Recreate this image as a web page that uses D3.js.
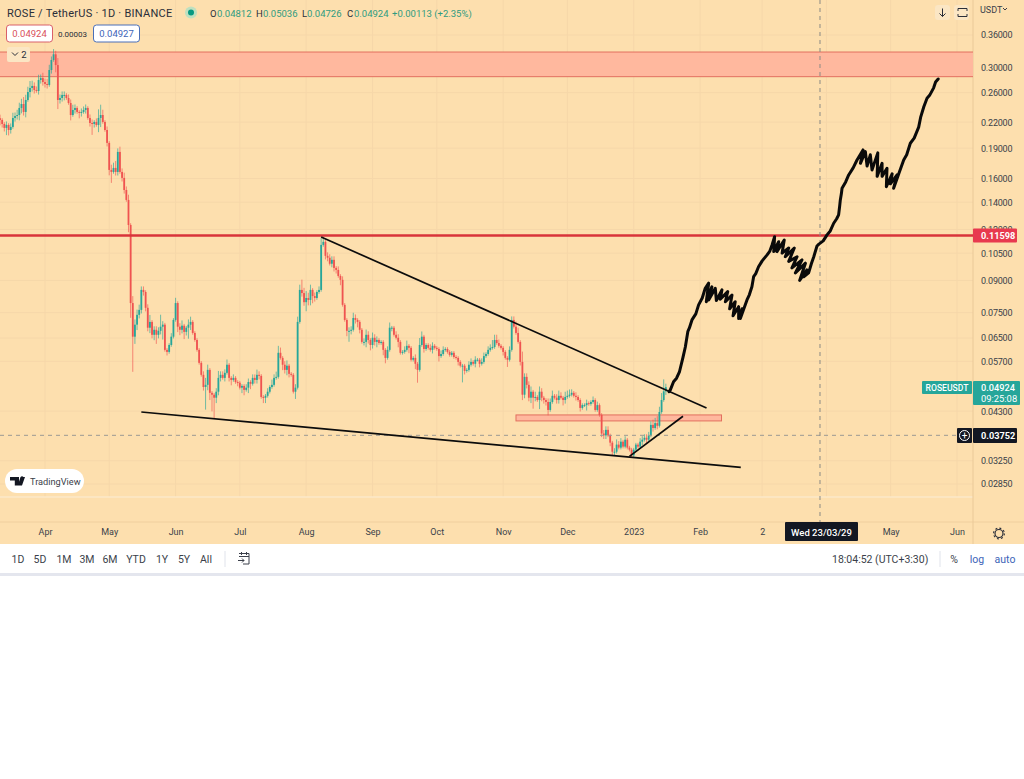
<!DOCTYPE html>
<html lang="en">
<head>
<meta charset="utf-8">
<title>ROSE / TetherUS</title>
<style>
body{
  margin: 0;
  background: #fff;
}
svg text{
  font-family: Roboto, sans-serif;
  fill: #2a2e39;
}
.axis path, .axis line{
  display: none;
}
.axis text{
  font: 9px Roboto, sans-serif;
  fill: #3b3f4a;
}
.bar text{
  font-size: 10.5px;
  fill: #3b3f4a;
}
</style>
</head>
<body>
<div id="chart"></div>
<script src="https://d3js.org/d3.v7.min.js"></script>
<script>
  // Daily closes from 11 Mar 2022
  const firstDay = "2022-03-11";
  const closes = [
    .2228,.2178,.2130,.2166,.2105,.2142,.2253,.2278,.2291,.2384,
    .2438,.2331,.2494,.2609,.2669,.2700,.2639,.2624,.2792,.2823,
    .2760,.2730,.2715,.2954,.3126,.3228,.3038,.2494,.2522,.2566,
    .2566,.2522,.2452,.2291,.2357,.2384,.2331,.2318,.2331,.2357,
    .2384,.2253,.2190,.2178,.2203,.2166,.2253,.2291,.2203,.2105,
    .1957,.1680,.1661,.1699,.1661,.1860,.1661,.1606,.1500,.1418,
    .1231,.0792,.0655,.0701,.0741,.0762,.0853,.0843,.0771,.0689,
    .0712,.0662,.0681,.0662,.0677,.0693,.0701,.0608,.0601,.0625,
    .0655,.0720,.0792,.0693,.0681,.0697,.0673,.0689,.0701,.0712,
    .0669,.0643,.0608,.0565,.0528,.0493,.0499,.0543,.0477,.0472,
    .0464,.0480,.0519,.0528,.0519,.0534,.0559,.0519,.0513,.0519,
    .0507,.0505,.0491,.0496,.0485,.0491,.0507,.0502,.0519,.0513,
    .0528,.0525,.0466,.0464,.0469,.0480,.0493,.0499,.0519,.0522,
    .0598,.0581,.0559,.0543,.0556,.0531,.0528,.0480,.0491,.0712,
    .0853,.0838,.0796,.0815,.0806,.0853,.0824,.0815,.0843,.0853,
    .1100,.1119,.1034,.1023,.0989,.1011,.0966,.0955,.0923,.0903,
    .0784,.0720,.0677,.0677,.0681,.0728,.0720,.0712,.0681,.0636,
    .0636,.0662,.0643,.0625,.0651,.0636,.0643,.0632,.0636,.0608,
    .0581,.0608,.0689,.0689,.0662,.0651,.0636,.0598,.0601,.0608,
    .0622,.0615,.0575,.0581,.0562,.0543,.0625,.0655,.0611,.0625,
    .0615,.0608,.0622,.0615,.0611,.0587,.0594,.0608,.0611,.0601,
    .0591,.0598,.0584,.0581,.0568,.0556,.0556,.0540,.0543,.0559,
    .0568,.0562,.0575,.0575,.0562,.0568,.0587,.0594,.0608,.0615,
    .0618,.0643,.0632,.0622,.0615,.0601,.0581,.0575,.0608,.0720,
    .0693,.0669,.0636,.0568,.0472,.0522,.0499,.0464,.0480,.0464,
    .0466,.0458,.0480,.0464,.0458,.0453,.0433,.0453,.0469,.0464,
    .0458,.0469,.0464,.0458,.0466,.0469,.0472,.0477,.0469,.0466,
    .0458,.0438,.0445,.0445,.0450,.0448,.0453,.0458,.0433,.0445,
    .0421,.0379,.0375,.0387,.0375,.0360,.0342,.0342,.0356,.0350,
    .0362,.0352,.0366,.0350,.0346,.0335,.0346,.0356,.0352,.0362,
    .0366,.0370,.0366,.0375,.0398,.0391,.0402,.0396,.0428,.0458,.0481,.04924
  ];
  // Wick lengths above and below the body, in percent of price
  const wickUp = [
    2,1,1,2,1,2,3,2,3,3, 3,4,3,3,4,3,2,2,3,2, 3,2,3,3,2,3,2,4,2,2, 2,1,2,2,3,2,1,1,2,2,
    2,1,2,2,1,2,5,6,3,1, 2,1,3,3,4,2,3,2,3,2, 3,1,4,3,3,3,2,2,1,2, 4,1,2,2,2,7,2,1,1,1,
    2,1,3,1,2,3,1,1,3,3, 1,1,1,1,1,2,4,3,1,1, 1,2,4,2,2,2,3,1,1,2, 1,1,1,1,1,2,2,1,2,2,
    3,2,1,1,1,2,1,3,2,3, 4,3,1,2,3,1,1,1,2,3, 3,6,3,4,3,3,1,2,1,2, 4,3,1,2,2,2,2,1,2,1,
    2,1,1,2,2,3,2,1,1,1, 2,3,2,1,3,2,2,1,1,1, 1,2,3,1,1,2,2,1,1,2, 3,1,1,1,2,1,4,3,1,1,
    1,2,2,1,1,1,2,2,1,1, 1,1,1,1,1,1,1,1,1,2, 2,1,2,1,1,2,2,1,2,2, 4,3,3,2,1,1,1,1,2,2,
    2,3,3,1,6,2,2,2,3,1, 3,1,3,2,1,1,2,2,3,1, 2,3,2,1,3,3,3,2,1,2, 1,1,1,1,2,1,1,2,1,2,
    1,1,2,2,2,1,1,2,3,2, 2,1,2,1,1,1,1,1,1,2, 2,2,2,2,2,3,3,4,3,4,7,2
  ];
  const wickDown = [
    3,2,2,4,3,2,1,2,2,3, 3,2,3,1,3,2,2,1,2,2, 2,2,2,1,2,1,4,5,2,2, 3,1,1,3,1,2,1,3,2,1,
    2,1,2,6,2,1,4,5,1,1, 2,3,6,1,2,2,1,2,2,1, 4,8,18,4,3,2,2,2,2,2, 3,2,3,5,2,2,7,1,2,1,
    1,1,1,3,3,2,4,2,6,3, 1,1,1,1,1,2,12,3,4,9, 11,3,2,2,1,2,1,2,3,1, 1,2,1,3,3,1,3,3,1,2,
    2,2,1,3,3,1,1,1,1,1, 1,1,3,2,3,2,1,1,4,1, 1,2,2,5,3,3,4,2,1,1, 1,1,2,2,1,2,2,2,1,3,
    1,1,3,6,2,1,2,3,2,1, 2,3,2,3,2,2,3,1,1,3, 3,1,1,2,1,1,3,1,1,1, 1,3,1,1,3,7,1,1,2,1,
    1,1,2,1,1,3,1,1,1,1, 1,1,1,1,2,1,9,2,1,1, 1,1,2,1,2,1,1,1,1,1, 1,1,1,1,1,2,1,4,1,1,
    1,1,1,2,3,2,2,2,3,6, 2,1,5,2,2,2,3,1,1,1, 2,2,1,3,2,1,1,1,1,2, 1,2,1,1,3,1,1,1,1,1,
    1,2,2,2,1,2,2,2,1,1, 1,1,1,1,1,1,1,1,1,1, 2,1,2,1,1,2,1,2,1,1,1,2
  ];

  // The hand-drawn projection: days after 1 Jan 2023 and price
  const projDays = [16.5,17.1,18.6,20,21.4,23,24.1,25.3,26,27.2,29,30.3,32,33.4,35,33.9,36.5,35,38.1,38.6,41.2,40.4,43.9,42.8,45.9,44.8,47.4,46.4,49,49,50.6,49.8,52.9,54,55.2,56,57,58.3,60,62.2,63.5,64.6,65.8,65.4,67.7,66.9,70.3,69.3,72.4,70.8,75,72.4,76.3,73.9,78.6,75.5,80.2,77.5,80.9,79.4,81.7,83,84.1,85.6,86.5,88.5,90.3,91.8,93.4,94.8,95.7,96.2,96.5,97,97.3,99,100.4,102.5,104.3,107.1,105.9,108.2,109,110.5,111.3,114,113.7,116,116,118.3,118,120.7,119.9,123,121.4,123.8,126.1,127.5,129.2,131,133.1,134,135.5,137,138.2,140.1,141,142.2];
  const projPrices = [.0480,.0485,.0508,.0518,.0538,.0583,.0618,.0675,.0688,.0720,.0745,.0784,.0815,.0861,.0886,.0798,.0868,.0806,.0861,.0803,.0853,.0809,.0845,.0798,.0829,.0767,.0798,.0737,.0776,.0726,.0767,.0726,.0806,.0830,.0868,.0919,.0935,.0972,.1005,.1038,.1060,.1100,.1152,.1059,.1120,.1059,.1131,.1050,.1081,.1029,.1081,.1002,.1029,.0966,.1011,.0939,.0992,.0900,.0955,.0919,.0939,.0990,.1029,.1093,.1105,.1125,.1164,.1190,.1243,.1275,.1303,.1370,.1418,.1470,.1515,.1570,.1633,.1700,.1777,.1881,.1744,.1863,.1717,.1830,.1680,.1850,.1620,.1744,.1620,.1696,.1528,.1643,.1554,.1633,.1515,.1643,.1777,.1830,.1953,.2010,.2139,.2260,.2400,.2518,.2560,.2671,.2760,.2808];

  // Trend lines: start date, start price, end date, end price
  const trendLines = [
    ["2022-08-08", .1150, "2023-02-04", .0438],
    ["2022-05-16", .0428, "2023-02-20", .0313],
    ["2022-12-30", .0333, "2023-01-24", .0418]
  ];
  const zoneHigh = [.3270, .0421];
  const zoneLow = [.2845, .0407];

  const priceTicks = [.36, .30, .26, .22, .19, .16, .14, .12, .105, .09, .075, .065, .057, .043, .0325, .0285];
  const monthTicks = ["2022-04-01","2022-05-01","2022-06-01","2022-07-01","2022-08-01","2022-09-01","2022-10-01","2022-11-01","2022-12-01","2023-01-01","2023-02-01","2023-03-02","2023-04-01","2023-05-01","2023-06-01"];
  // April 2023 sits under the crosshair date tag, so it has a grid line and no label
  const monthLabels = ["Apr","May","Jun","Jul","Aug","Sep","Oct","Nov","Dec","2023","Feb","2","","May","Jun"];
  const rangeButtons = ["1D","5D","1M","3M","6M","YTD","1Y","5Y","All"];
  const rangeButtonX = [18,40,64,87,110,136,162,184,206];
  const ohlcParts = ["O","0.04812","H","0.05036","L","0.04726","C","0.04924","+0.00113 (+2.35%)"];
  const ohlcX = [210,217,256,263,302,307,347,354,392];

  const lastPrice = .04924, levelPrice = .11598, crossPrice = .03752, crossDay = "2023-03-29";

  const width = 1024, height = 779;
  const plotRight = 973, paneBottom = 497, axisTop = 522, barTop = 544, barBottom = 573;
  const colors = { bg: "#fddfae", grid: "#f6d7a9", up: "#26a69a", down: "#ef5350", red: "#d8343a", blue: "#3d64b8" };

  const svg = d3.select("#chart").append("svg")
    .attr("width", width).attr("height", height)
    .style("display", "block");

  const x = d3.scaleUtc()
    .domain([new Date("2022-04-01"), new Date("2023-06-01")])
    .range([45, 957]);
  const y = d3.scaleLog()
    .domain([.36, .0285])
    .range([35, 484]);

  // Background
  svg.append("rect").attr("width", width).attr("height", barTop).attr("fill", colors.bg);
  svg.append("defs").append("clipPath").attr("id", "plot")
    .append("rect").attr("width", plotRight).attr("height", axisTop);

  // Grid
  svg.append("g").selectAll("line").data(monthTicks).join("line")
    .attr("x1", d => x(new Date(d))).attr("x2", d => x(new Date(d)))
    .attr("y1", 0).attr("y2", paneBottom)
    .attr("stroke", colors.grid);
  svg.append("g").selectAll("line").data(priceTicks).join("line")
    .attr("x1", 0).attr("x2", plotRight)
    .attr("y1", d => y(d)).attr("y2", d => y(d))
    .attr("stroke", colors.grid);
  svg.append("line").attr("x1", 0).attr("x2", plotRight).attr("y1", paneBottom).attr("y2", paneBottom)
    .attr("stroke", "#fbe8c8").attr("stroke-width", 1.5);
  svg.append("line").attr("x1", 0).attr("x2", width).attr("y1", axisTop).attr("y2", axisTop)
    .attr("stroke", "#f0cf9e");
  svg.append("line").attr("x1", plotRight).attr("x2", plotRight).attr("y1", 0).attr("y2", barTop)
    .attr("stroke", "#eac998");

  const plot = svg.append("g").attr("clip-path", "url(#plot)");

  // Shaded zones
  const zoneX = [[-2, plotRight + 2], [x(new Date("2022-11-07")), x(new Date("2023-02-11"))]];
  plot.selectAll(".zone").data([0, 1]).join("rect")
    .attr("class", "zone")
    .attr("x", i => zoneX[i][0])
    .attr("y", i => y(zoneHigh[i]))
    .attr("width", i => zoneX[i][1] - zoneX[i][0])
    .attr("height", i => y(zoneLow[i]) - y(zoneHigh[i]))
    .attr("fill", "#ffb89e")
    .attr("stroke", "#e2705f")
    .attr("stroke-width", 1);

  // Candles
  const candles = closes.map((c, i) => {
    const o = i ? closes[i - 1] : c * 1.01;
    return {
      date: d3.utcDay.offset(new Date(firstDay), i),
      open: o,
      close: c,
      high: Math.max(o, c) * (1 + wickUp[i] / 100),
      low: Math.min(o, c) * (1 - wickDown[i] / 100)
    };
  });
  const candle = plot.append("g").selectAll("g").data(candles).join("g")
    .attr("fill", d => d.close >= d.open ? colors.up : colors.down)
    .attr("stroke", d => d.close >= d.open ? colors.up : colors.down);
  candle.append("line")
    .attr("x1", d => x(d.date)).attr("x2", d => x(d.date))
    .attr("y1", d => y(d.high)).attr("y2", d => y(d.low))
    .attr("stroke-opacity", 0.65);
  candle.append("rect")
    .attr("x", d => x(d.date) - 0.9)
    .attr("width", 1.8)
    .attr("y", d => y(Math.max(d.open, d.close)))
    .attr("height", d => Math.max(1, Math.abs(y(d.open) - y(d.close))))
    .attr("stroke", "none");

  // Horizontal levels
  plot.append("line").attr("x1", 0).attr("x2", plotRight)
    .attr("y1", y(levelPrice)).attr("y2", y(levelPrice))
    .attr("stroke", colors.red).attr("stroke-width", 2.4);
  plot.append("line").attr("x1", 0).attr("x2", 957)
    .attr("y1", y(crossPrice)).attr("y2", y(crossPrice))
    .attr("stroke", "#9b9a94").attr("stroke-dasharray", "4 4");
  plot.append("line").attr("x1", x(new Date(crossDay))).attr("x2", x(new Date(crossDay)))
    .attr("y1", 0).attr("y2", axisTop)
    .attr("stroke", "#8b8a84").attr("stroke-dasharray", "4 4");

  // Trend lines
  plot.selectAll(".trend").data(trendLines).join("line")
    .attr("class", "trend")
    .attr("x1", d => x(new Date(d[0]))).attr("y1", d => y(d[1]))
    .attr("x2", d => x(new Date(d[2]))).attr("y2", d => y(d[3]))
    .attr("stroke", "#0c0c0c").attr("stroke-width", 1.7);

  // Projection
  const projBase = +new Date("2023-01-01");
  const projLine = d3.line()
    .x(d => x(new Date(projBase + d * 864e5)))
    .y((d, i) => y(projPrices[i]));
  plot.append("path").datum(projDays)
    .attr("d", projLine)
    .attr("fill", "none").attr("stroke", "#0a0a0a")
    .attr("stroke-width", 3).attr("stroke-linejoin", "round").attr("stroke-linecap", "round");

  // Price axis
  svg.append("g").attr("class", "axis")
    .attr("transform", `translate(${plotRight + 1},0)`)
    .call(d3.axisRight(y).tickValues(priceTicks).tickFormat(d3.format(".5f")).tickSize(0).tickPadding(7))
    .selectAll("text").attr("letter-spacing", -0.2);

  // Time axis
  svg.append("g").attr("class", "axis")
    .attr("transform", `translate(0,${axisTop})`)
    .call(d3.axisBottom(x).tickValues(monthTicks.map(d => new Date(d)))
      .tickFormat((d, i) => monthLabels[i]).tickSize(0).tickPadding(7))
    .selectAll("text")
    .attr("font-weight", (d, i) => monthLabels[i] === "2023" ? 700 : 400);

  // Labels on the axes
  function tag(g, x0, y0, w, h, fill, rx) {
    return g.append("rect").attr("x", x0).attr("y", y0).attr("width", w).attr("height", h)
      .attr("fill", fill).attr("rx", rx || 0);
  }
  function label(g, x0, y0, str, size, fill, anchor, weight) {
    return g.append("text").attr("x", x0).attr("y", y0).text(str)
      .attr("font-size", size).style("fill", fill)
      .attr("text-anchor", anchor || "start").attr("font-weight", weight || 400);
  }
  const priceFmt = d3.format(".5f");

  tag(svg, plotRight, y(levelPrice) - 7, 44, 14, "#e8394f", 1);
  label(svg, 981, y(levelPrice) + 3.4, priceFmt(levelPrice), 9.2, "#fff", "start", 700);

  tag(svg, 922, 381, 50, 13, colors.up, 1);
  label(svg, 947, 391, "ROSEUSDT", 8.6, "#fff", "middle", 500);
  tag(svg, plotRight, 381, 47, 24, colors.up, 1);
  label(svg, 981, 391, priceFmt(lastPrice), 9.2, "#fff", "start", 500);
  label(svg, 981, 402, "09:25:08", 9.4, "#fff");

  tag(svg, 957, 428, 15, 15, "#131722", 1);
  svg.append("circle").attr("cx", 964.5).attr("cy", 435.5).attr("r", 5)
    .attr("fill", "none").attr("stroke", "#fff");
  label(svg, 964.5, 439, "+", 10, "#fff", "middle");
  tag(svg, plotRight, 428, 44, 15, "#131722", 1);
  label(svg, 981, y(crossPrice) + 3.4, priceFmt(crossPrice), 9.2, "#fff", "start", 700);

  tag(svg, 785, axisTop, 73, 19, "#131722", 1);
  label(svg, 821.5, 535.5, "Wed 23/03/29", 9.5, "#fff", "middle", 500);

  // Header
  label(svg, 7, 17, "ROSE / TetherUS · 1D · BINANCE", 11, "#2a2e39").attr("letter-spacing", 0.25);
  svg.append("circle").attr("cx", 191).attr("cy", 12.5).attr("r", 6).attr("fill", "#bfe0c0");
  svg.append("circle").attr("cx", 191).attr("cy", 12.5).attr("r", 3).attr("fill", "#089981");
  svg.append("g").selectAll("text").data(ohlcParts).join("text")
    .attr("x", (d, i) => ohlcX[i]).attr("y", 17)
    .attr("font-size", 9.5)
    .style("fill", (d, i) => i % 2 === 0 && i < 8 ? "#2a2e39" : "#2f9b80")
    .text(d => d);

  tag(svg, 6.5, 25, 46, 17, "#fff", 3).attr("stroke", "#d9606a");
  label(svg, 29.5, 37, "0.04924", 9.5, "#d9505a", "middle");
  label(svg, 72.5, 36.5, "0.00003", 8, "#2a2e39", "middle");
  tag(svg, 93.5, 25, 46, 17, "#fff", 3).attr("stroke", "#4a6fb8");
  label(svg, 116.5, 37, "0.04927", 9.5, "#3d64b8", "middle");

  tag(svg, 7, 47, 23, 15, "#fbe6c4", 2);
  svg.append("path").attr("d", "M12 52.5l3 3l3 -3").attr("fill", "none").attr("stroke", "#2a2e39");
  label(svg, 24, 58, "2", 9.5, "#2a2e39", "middle");

  // Chart buttons at the top right
  tag(svg, 935, 5, 15, 15, "#fbe6c4", 3);
  tag(svg, 954, 5, 15, 15, "#fbe6c4", 3);
  svg.append("path").attr("d", "M942.5 8.5v8M939.5 13.5l3 3l3 -3").attr("fill", "none").attr("stroke", "#2a2e39");
  svg.append("path").attr("d", "M958 11v-2.5h9v2.5M958 14v2.5h9v-2.5").attr("fill", "none").attr("stroke", "#2a2e39");
  label(svg, 980, 13, "USDT", 9, "#3b3f4a");
  svg.append("path").attr("d", "M1003 8l2 2l2 -2").attr("fill", "none").attr("stroke", "#3b3f4a");

  // TradingView badge
  tag(svg, 5, 469, 79, 24, "#fff", 12);
  svg.append("path").attr("d", "M10 477h9v8.5h-4.2v-5h-4.8zM20.5 477h4.5l-3 8.5h-4.2zM22 479.5a1.6 1.6 0 1 1 0.01 0").attr("fill", "#131722");
  label(svg, 30, 484.5, "TradingView", 9.2, "#3b3f4a");

  // Bottom toolbar
  const bar = svg.append("g").attr("class", "bar");
  bar.selectAll(".range").data(rangeButtons).join("text")
    .attr("class", "range")
    .attr("x", (d, i) => rangeButtonX[i]).attr("y", 563)
    .attr("text-anchor", "middle")
    .text(d => d);
  bar.append("line").attr("x1", 225).attr("x2", 225).attr("y1", 551).attr("y2", 567).attr("stroke", "#e0e3eb");
  bar.append("path").attr("d", "M239 553.5h10v10.5h-6M239 556.5h10M241.5 552v3M246.5 552v3M238 560.5h6l-2 -2M244 560.5l-2 2")
    .attr("fill", "none").attr("stroke", "#3b3f4a");
  label(bar, 832, 563, "18:04:52 (UTC+3:30)", 10.5, "#3b3f4a");
  bar.append("line").attr("x1", 940).attr("x2", 940).attr("y1", 551).attr("y2", 567).attr("stroke", "#e0e3eb");
  label(bar, 954, 563, "%", 11.5, "#3b3f4a", "middle");
  label(bar, 977, 563, "log", 10.5, colors.blue, "middle");
  label(bar, 1005, 563, "auto", 10.5, colors.blue, "middle");
  svg.append("rect").attr("y", barBottom).attr("width", width).attr("height", 3).attr("fill", "#e4e6ee");

  // Settings gear
  svg.append("circle").attr("cx", 999).attr("cy", 533.5).attr("r", 4).attr("fill", "none").attr("stroke", "#2a2e39").attr("stroke-width", 1.2);
  svg.append("circle").attr("cx", 999).attr("cy", 533.5).attr("r", 5.4).attr("fill", "none").attr("stroke", "#2a2e39").attr("stroke-width", 1.1).attr("stroke-dasharray", "2 2.2");
</script>
</body>
</html>
